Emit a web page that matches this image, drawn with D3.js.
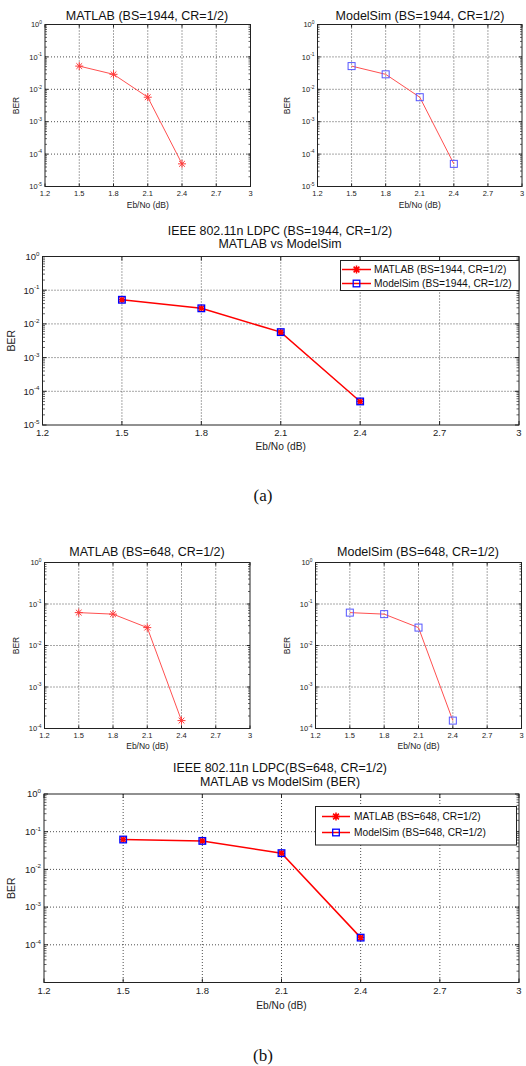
<!DOCTYPE html>
<html><head><meta charset="utf-8">
<script src="https://cdn.jsdelivr.net/npm/d3@7"></script>
<style>body{margin:0;background:#fff}svg{display:block}</style>
</head><body>
<svg id="c" width="526" height="1066"></svg>
<script>
// ---- data ----
const xTicks = [1.2, 1.5, 1.8, 2.1, 2.4, 2.7, 3];
const xTickLabels = ["1.2", "1.5", "1.8", "2.1", "2.4", "2.7", "3"];
const ebno = [1.5, 1.8, 2.1, 2.4];
const matlab1944 = [0.052, 0.029, 0.0057, 0.00005];
const modelsim1944 = [0.052, 0.029, 0.0057, 0.00005];
const matlab648 = [0.062, 0.057, 0.027, 0.000155];
const modelsim648 = [0.062, 0.057, 0.027, 0.000155];
const yExp1944 = [0, -1, -2, -3, -4, -5];
const yExp648Sub = [0, -1, -2, -3, -4];
const yExp648Main = [0, -1, -2, -3, -4];

const svg = d3.select("#c");
const FONT = "'Liberation Sans', Arial, sans-serif";

function star(g, x, y, r, color, w) {
  const d = r * 0.72;
  const p = `M${x - r},${y}L${x + r},${y}M${x},${y - r}L${x},${y + r}M${x - d},${y - d}L${x + d},${y + d}M${x - d},${y + d}L${x + d},${y - d}`;
  g.append("path").attr("d", p).attr("stroke", color).attr("stroke-width", w).attr("fill", "none");
}
function square(g, x, y, r, color, w) {
  g.append("rect").attr("x", x - r).attr("y", y - r).attr("width", 2 * r).attr("height", 2 * r)
    .attr("fill", "none").attr("stroke", color).attr("stroke-width", w);
}

function panel(o) {
  const g = svg.append("g");
  const x = d3.scaleLinear().domain([1.2, 3]).range([o.x0, o.x1]);
  const y = d3.scaleLog().domain([Math.pow(10, o.yMin), 1]).range([o.y1, o.y0]);
  // grid
  xTicks.slice(1, -1).forEach(t => g.append("line").attr("x1", x(t)).attr("x2", x(t)).attr("y1", o.y0).attr("y2", o.y1)
    .attr("stroke", "#222").attr("stroke-width", 0.8).attr("stroke-dasharray", "1,2"));
  for (let e = o.yMin + 1; e < 0; e++) g.append("line").attr("x1", o.x0).attr("x2", o.x1).attr("y1", y(Math.pow(10, e))).attr("y2", y(Math.pow(10, e)))
    .attr("stroke", "#222").attr("stroke-width", 0.8).attr("stroke-dasharray", "1,2");
  // minor ticks
  for (let e = o.yMin; e < 0; e++) for (let m = 2; m <= 9; m++) {
    const yy = y(m * Math.pow(10, e));
    g.append("line").attr("x1", o.x0).attr("x2", o.x0 + o.minor).attr("y1", yy).attr("y2", yy).attr("stroke", "#222").attr("stroke-width", 0.7);
    g.append("line").attr("x1", o.x1).attr("x2", o.x1 - o.minor).attr("y1", yy).attr("y2", yy).attr("stroke", "#222").attr("stroke-width", 0.7);
  }
  for (let e = o.yMin; e <= 0; e++) {
    const yy = y(Math.pow(10, e));
    g.append("line").attr("x1", o.x0).attr("x2", o.x0 + o.major).attr("y1", yy).attr("y2", yy).attr("stroke", "#222");
    g.append("line").attr("x1", o.x1).attr("x2", o.x1 - o.major).attr("y1", yy).attr("y2", yy).attr("stroke", "#222");
  }
  xTicks.forEach(t => {
    g.append("line").attr("x1", x(t)).attr("x2", x(t)).attr("y1", o.y1).attr("y2", o.y1 - o.major).attr("stroke", "#222");
    g.append("line").attr("x1", x(t)).attr("x2", x(t)).attr("y1", o.y0).attr("y2", o.y0 + o.major).attr("stroke", "#222");
  });
  // box
  g.append("rect").attr("x", o.x0).attr("y", o.y0).attr("width", o.x1 - o.x0).attr("height", o.y1 - o.y0)
    .attr("fill", "none").attr("stroke", "#222").attr("stroke-width", 1);
  // tick labels
  xTicks.forEach((t, i) => g.append("text").attr("x", x(t)).attr("y", o.y1 + o.tfs + 1.5).attr("text-anchor", "middle")
    .attr("font-family", FONT).attr("font-size", o.tfs).attr("fill", "#222").text(xTickLabels[i]));
  o.yLabels.forEach(e => {
    const t = g.append("text").attr("x", o.x0 - 3).attr("y", y(Math.pow(10, e)) + o.tfs * 0.35).attr("text-anchor", "end")
      .attr("font-family", FONT).attr("font-size", o.tfs).attr("fill", "#222");
    t.append("tspan").text("10");
    t.append("tspan").attr("dy", -o.tfs * 0.45).attr("font-size", o.tfs * 0.65).text(String(e));
  });
  // axis labels
  g.append("text").attr("x", (o.x0 + o.x1) / 2).attr("y", o.xlY).attr("text-anchor", "middle")
    .attr("font-family", FONT).attr("font-size", o.lfs).attr("fill", "#222").text("Eb/No (dB)");
  g.append("text").attr("transform", `translate(${o.ylX},${(o.y0 + o.y1) / 2}) rotate(-90)`).attr("text-anchor", "middle")
    .attr("font-family", FONT).attr("font-size", o.ylfs || o.lfs).attr("fill", "#222").text("BER");
  o.title.forEach((s, i) => g.append("text").attr("x", o.titleX).attr("y", o.titleY[i]).attr("text-anchor", "middle")
    .attr("font-family", FONT).attr("font-size", o.titfs).attr("fill", "#111").text(s));
  // series
  const line = d3.line().x((d, i) => x(ebno[i])).y(d => y(d));
  o.series.forEach(s => {
    if (s.drawLine) g.append("path").datum(s.values).attr("d", line).attr("fill", "none").attr("stroke", s.lineColor).attr("stroke-width", s.lw);
  });
  o.series.forEach(s => {
    s.values.forEach((v, i) => {
      if (s.marker === "star") star(g, x(ebno[i]), y(v), s.ms, s.markerColor, s.mw);
      else square(g, x(ebno[i]), y(v), s.ms, s.markerColor, s.mw);
    });
  });
  if (o.legend) {
    const L = o.legend;
    g.append("rect").attr("x", L.x0).attr("y", L.y0).attr("width", L.x1 - L.x0).attr("height", L.y1 - L.y0)
      .attr("fill", "#fff").attr("stroke", "#222").attr("stroke-width", 1);
    o.series.forEach((s, i) => {
      const yy = L.rows[i];
      g.append("line").attr("x1", L.lx0).attr("x2", L.lx1).attr("y1", yy).attr("y2", yy).attr("stroke", "#ff0000").attr("stroke-width", 1.5);
      if (s.marker === "star") star(g, (L.lx0 + L.lx1) / 2, yy, s.ms + 0.5, s.markerColor, s.mw);
      else square(g, (L.lx0 + L.lx1) / 2, yy, s.ms, s.markerColor, s.mw);
      g.append("text").attr("x", L.tx).attr("y", yy + L.fs * 0.36).attr("font-family", FONT).attr("font-size", L.fs)
        .attr("fill", "#111").text(s.name);
    });
  }
}

const subLight = (vals, marker) => [{ values: vals, drawLine: true, lineColor: "#ff5050", lw: 1, marker: marker,
  markerColor: marker === "star" ? "#ff3a3a" : "#5555ff", ms: marker === "star" ? 4 : 3.5, mw: 1 }];

// (a) subplots
panel({ x0: 45, x1: 250.5, y0: 24.5, y1: 186.5, yMin: -5, yLabels: yExp1944, minor: 2, major: 3, tfs: 7.5, lfs: 8.5, titfs: 12.5,
  xlY: 208, ylX: 19, titleX: 147, titleY: [19.5], title: ["MATLAB (BS=1944, CR=1/2)"], series: subLight(matlab1944, "star") });
panel({ x0: 317.5, x1: 522, y0: 24.5, y1: 186.5, yMin: -5, yLabels: yExp1944, minor: 2, major: 3, tfs: 7.5, lfs: 8.5, titfs: 12.5,
  xlY: 208, ylX: 290, titleX: 420, titleY: [19.5], title: ["ModelSim (BS=1944, CR=1/2)"], series: subLight(modelsim1944, "square") });
// (a) main
panel({ x0: 42.5, x1: 519, y0: 256.5, y1: 425, yMin: -5, yLabels: yExp1944, minor: 2.5, major: 4, tfs: 9.5, lfs: 10.2, ylfs: 10.5, titfs: 12.4,
  xlY: 450, ylX: 15, titleX: 280, titleY: [235, 248], title: ["IEEE 802.11n LDPC (BS=1944, CR=1/2)", "MATLAB vs ModelSim"],
  series: [
    { name: "MATLAB (BS=1944, CR=1/2)", values: matlab1944, drawLine: true, lineColor: "#ff0000", lw: 1.5, marker: "star", markerColor: "#ff0000", ms: 3.5, mw: 1.5 },
    { name: "ModelSim (BS=1944, CR=1/2)", values: modelsim1944, drawLine: false, marker: "square", markerColor: "#0000ff", ms: 3.3, mw: 1.3 }
  ],
  legend: { x0: 340.5, x1: 519, y0: 260.5, y1: 290.5, rows: [269.5, 283.5], lx0: 342, lx1: 371, tx: 374, fs: 10.2 } });
// (b) subplots
panel({ x0: 44.5, x1: 250, y0: 562.5, y1: 728.5, yMin: -4, yLabels: yExp648Sub, minor: 2, major: 3, tfs: 7.5, lfs: 8.5, titfs: 12.5,
  xlY: 749, ylX: 19, titleX: 147, titleY: [556], title: ["MATLAB (BS=648, CR=1/2)"], series: subLight(matlab648, "star") });
panel({ x0: 315.5, x1: 521.5, y0: 562.5, y1: 728.5, yMin: -4, yLabels: yExp648Sub, minor: 2, major: 3, tfs: 7.5, lfs: 8.5, titfs: 12.5,
  xlY: 749, ylX: 290, titleX: 418, titleY: [556], title: ["ModelSim (BS=648, CR=1/2)"], series: subLight(modelsim648, "square") });
// (b) main
panel({ x0: 44, x1: 519, y0: 794, y1: 982.5, yMin: -5, yLabels: yExp648Main, minor: 2.5, major: 4, tfs: 9.5, lfs: 10.2, ylfs: 10.5, titfs: 12.4,
  xlY: 1009, ylX: 15, titleX: 280, titleY: [772, 786], title: ["IEEE 802.11n LDPC(BS=648, CR=1/2)", "MATLAB vs ModelSim (BER)"],
  series: [
    { name: "MATLAB (BS=648, CR=1/2)", values: matlab648, drawLine: true, lineColor: "#ff0000", lw: 1.5, marker: "star", markerColor: "#ff0000", ms: 3.5, mw: 1.5 },
    { name: "ModelSim (BS=648, CR=1/2)", values: modelsim648, drawLine: false, marker: "square", markerColor: "#0000ff", ms: 3.3, mw: 1.3 }
  ],
  legend: { x0: 315.5, x1: 516.5, y0: 806.5, y1: 845, rows: [816.5, 832.5], lx0: 322, lx1: 350, tx: 354, fs: 10.2 } });

svg.append("text").attr("x", 263).attr("y", 501).attr("text-anchor", "middle").attr("font-family", "'Liberation Serif', serif")
  .attr("font-size", 17).attr("fill", "#111").text("(a)");
svg.append("text").attr("x", 263).attr("y", 1061).attr("text-anchor", "middle").attr("font-family", "'Liberation Serif', serif")
  .attr("font-size", 17).attr("fill", "#111").text("(b)");
</script>
</body></html>
